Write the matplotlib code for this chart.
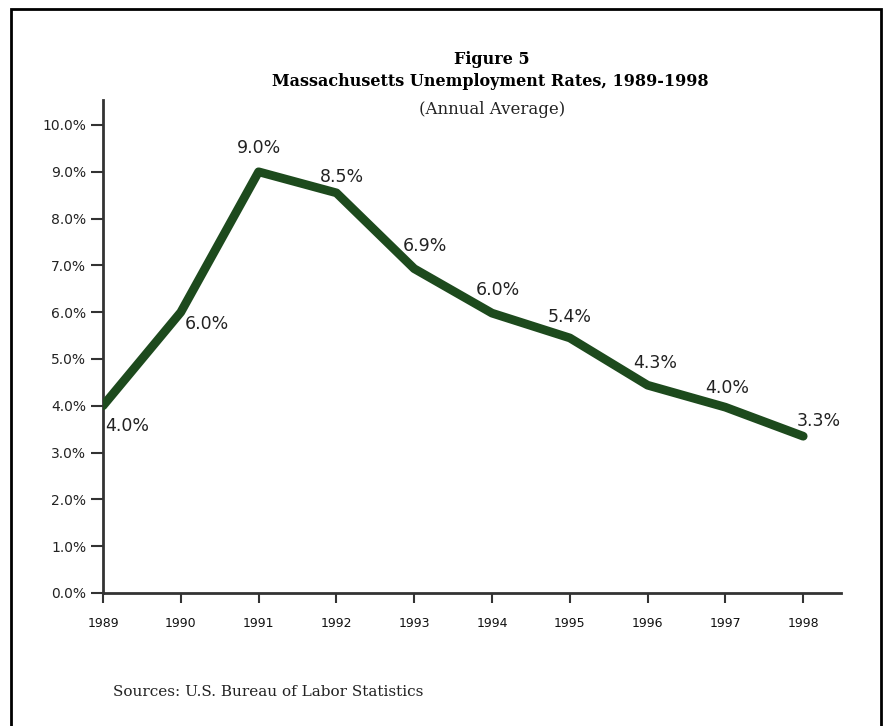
import matplotlib
matplotlib.use("Agg")
import matplotlib.pyplot as plt
from matplotlib.patches import Rectangle

years = [1989, 1990, 1991, 1992, 1993, 1994, 1995, 1996, 1997, 1998]
rates = [4.0, 6.0, 9.0, 8.55, 6.93, 5.98, 5.45, 4.44, 3.97, 3.35]
point_labels = ["4.0%", "6.0%", "9.0%", "8.5%", "6.9%", "6.0%", "5.4%", "4.3%", "4.0%", "3.3%"]
y_ticks = [0, 1, 2, 3, 4, 5, 6, 7, 8, 9, 10]
y_tick_labels = [f"{v:.1f}%" for v in y_ticks]

# label offsets in pixels (style)
offsets = [(2, -20, 'left'), (4, -12, 'left'), (0, 24, 'center'), (-17, 16, 'left'),
           (-11, 23, 'left'), (-16, 23, 'left'), (-22, 21, 'left'), (-14, 22, 'left'),
           (-20, 19, 'left'), (-7, 15, 'left')]

W, H = 883, 726
fig = plt.figure(figsize=(W / 100, H / 100), dpi=100)
fig.patch.set_facecolor("white")

# outer frame
fig.add_artist(Rectangle((11 / W, -0.01), (881 - 11) / W, (H - 9) / H + 0.01,
                         transform=fig.transFigure, fill=False, edgecolor="black",
                         linewidth=2.0))

ax = fig.add_axes([103 / W, 1 - 593 / H, (841 - 103) / W, (593 - 100) / H])
ax.plot(years, rates, color="#1d4a1d", linewidth=6.3, solid_joinstyle="round",
        solid_capstyle="round", zorder=3)

for x, y, lab, (dx, dy, ha) in zip(years, rates, point_labels, offsets):
    ax.annotate(lab, (x, y), xytext=(dx, dy), textcoords="offset pixels",
                ha=ha, va="center", fontsize=12.5, color="#222222",
                family="DejaVu Sans")

ax.set_xlim(1989, 1989 + (841 - 103) / 77.8)
ax.set_ylim(0, (593 - 100) / 46.8)
ax.set_xticks(years)
ax.set_xticklabels([str(y) for y in years], fontsize=9, family="DejaVu Sans",
                   color="#111111")
ax.set_yticks(y_ticks)
ax.set_yticklabels(y_tick_labels, fontsize=10, family="DejaVu Sans", color="#222222")
ax.tick_params(axis="y", length=9, width=1.5, color="#333333", pad=3)
ax.tick_params(axis="x", length=7, width=1.5, color="#333333", pad=10)
for s in ["top", "right"]:
    ax.spines[s].set_visible(False)
for s in ["left", "bottom"]:
    ax.spines[s].set_color("#333333")
    ax.spines[s].set_linewidth(2.0)

fig.text(492 / W, 1 - 59 / H, "Figure 5", ha="center", va="center",
         fontsize=11.5, fontweight="bold", family="DejaVu Serif")
fig.text(490 / W, 1 - 82 / H, "Massachusetts Unemployment Rates, 1989-1998",
         ha="center", va="center", fontsize=11.5, fontweight="bold",
         family="DejaVu Serif")
fig.text(492 / W, 1 - 110 / H, "(Annual Average)", ha="center", va="center",
         fontsize=12, family="DejaVu Serif", color="#222222")
fig.text(113 / W, 1 - 692 / H, "Sources: U.S. Bureau of Labor Statistics",
         ha="left", va="center", fontsize=11, family="DejaVu Serif",
         color="#222222")

fig.savefig("out.png", dpi=100, facecolor="white")
